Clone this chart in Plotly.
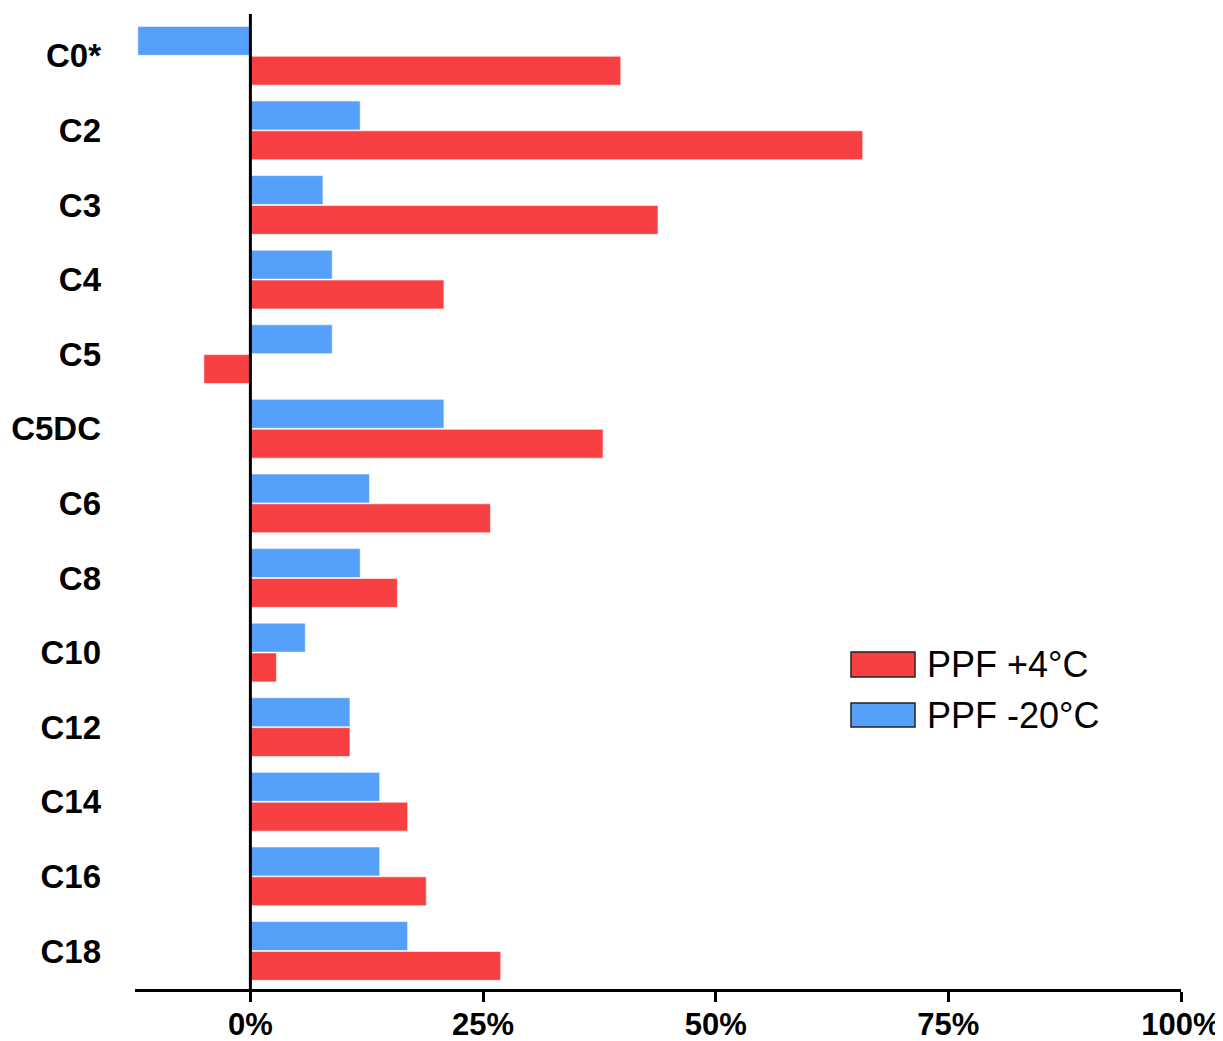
import plotly.graph_objects as go

# Données (en %)
categories = ["C0*", "C2", "C3", "C4", "C5", "C5DC", "C6", "C8", "C10", "C12", "C14", "C16", "C18"]
ppf_minus20 = [-12.1, 11.8, 7.8, 8.8, 8.8, 20.8, 12.8, 11.8, 5.9, 10.7, 13.9, 13.9, 16.9]
ppf_plus4 = [39.8, 65.8, 43.8, 20.8, -5.0, 37.9, 25.8, 15.8, 2.8, 10.7, 16.9, 18.9, 26.9]
x_ticks = [0, 25, 50, 75, 100]
x_ticktext = ["0%", "25%", "50%", "75%", "100%"]
legend_names = ["PPF +4°C", "PPF -20°C"]

red = "#F84043"
blue = "#55A0FB"
font_family = "Liberation Sans, Arial, sans-serif"

fig = go.Figure()
fig.add_trace(go.Bar(
    y=categories, x=ppf_minus20, orientation="h", name=legend_names[1],
    marker=dict(color=blue, line=dict(color="rgba(255,255,255,0.6)", width=1)),
    showlegend=False,
))
fig.add_trace(go.Bar(
    y=categories, x=ppf_plus4, orientation="h", name=legend_names[0],
    marker=dict(color=red, line=dict(color="rgba(255,255,255,0.6)", width=1)),
    showlegend=False,
))

# axe vertical au zéro
fig.add_shape(type="line", xref="x", yref="paper", x0=0, x1=0, y0=0, y1=1,
              line=dict(color="black", width=3), layer="above")

# légende dessinée à la main (grands rectangles)
legend_items = [(red, legend_names[0], 0.320, 0.3456), (blue, legend_names[1], 0.2687, 0.2933)]
for color, label, y0, y1 in legend_items:
    fig.add_shape(type="rect", xref="paper", yref="paper", x0=0.6845, x1=0.7457, y0=y0, y1=y1,
                  fillcolor=color, line=dict(color="#222222", width=1.5), layer="above")
    fig.add_annotation(xref="paper", yref="paper", x=0.7553, y=(y0 + y1) / 2, text=label,
                       showarrow=False, xanchor="left", yanchor="middle",
                       font=dict(size=36, color="black", family=font_family))

# la page html ajoute une marge de 8 px : on compense
fig.update_layout(
    barmode="group",
    bargap=0.2,
    bargroupgap=0.03,
    width=1215,
    height=1033,
    margin=dict(l=127, r=42, t=6, b=52),
    plot_bgcolor="white",
    paper_bgcolor="white",
    font=dict(family=font_family, color="black"),
    xaxis=dict(
        range=[-12.4, 100],
        tickvals=x_ticks,
        ticktext=x_ticktext,
        showgrid=False,
        zeroline=False,
        showline=True,
        linecolor="black",
        linewidth=3,
        ticks="outside",
        ticklen=10,
        tickwidth=3,
        tickcolor="black",
        tickfont=dict(size=31, family=font_family, weight="bold"),
        ticklabelstandoff=-4,
        automargin=False,
    ),
    yaxis=dict(
        range=[12.51, -0.56],
        showgrid=False,
        zeroline=False,
        showline=False,
        ticks="",
        tickfont=dict(size=33, family=font_family, weight="bold"),
        ticklabelstandoff=33,
        automargin=False,
    ),
)

fig.write_html("out.html")
